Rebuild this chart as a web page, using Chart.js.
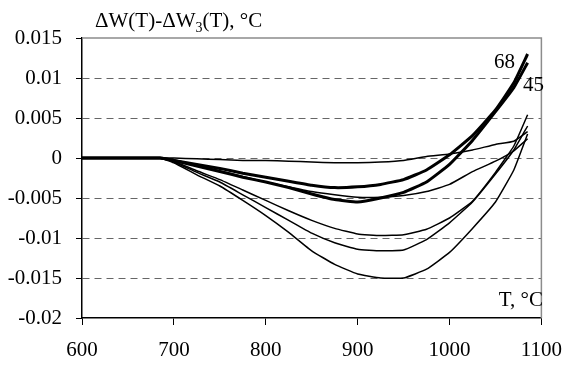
<!DOCTYPE html>
<html>
<head>
<meta charset="utf-8">
<script src="https://cdn.jsdelivr.net/npm/chart.js@4"></script>
<style>
	body { margin: 0; background: #fff; }
</style>
</head>
<body>
<canvas id="ResidualChart" width="575" height="365"></canvas>
<script>
const temps = [600, 650, 685, 700, 725, 750, 775, 800, 825, 850, 875, 900, 925, 950, 975, 1000, 1025, 1050, 1070, 1085]

const thick68 = [0, 0, 0, -0.0003, -0.0008, -0.0013, -0.0019, -0.0024, -0.0029, -0.0034, -0.0037, -0.0036, -0.0033, -0.0027, -0.0015, 0.0004, 0.0028, 0.006, 0.0094, 0.013]
const thick45 = [0, 0, 0, -0.0003, -0.001, -0.0017, -0.0024, -0.003, -0.0037, -0.0045, -0.0052, -0.0055, -0.005, -0.0043, -0.003, -0.0008, 0.0022, 0.0058, 0.0088, 0.0119]
const thin1 = [0, 0, 0, 0, -0.0001, -0.0002, -0.0003, -0.0003, -0.0004, -0.0005, -0.0006, -0.0006, -0.0005, -0.0003, 0.0002, 0.0005, 0.001, 0.0017, 0.0021, 0.0033]
const thin2 = [0, 0, 0, -0.0003, -0.0009, -0.0016, -0.0023, -0.003, -0.0036, -0.0042, -0.0046, -0.0049, -0.0049, -0.0047, -0.0042, -0.0033, -0.0017, -0.0004, 0.0009, 0.0024]
const thin3 = [0, 0, 0, -0.0004, -0.0016, -0.0027, -0.004, -0.0053, -0.0066, -0.0078, -0.0088, -0.0095, -0.0097, -0.0096, -0.0089, -0.0075, -0.0054, -0.0018, 0.0015, 0.0054]
const thin4 = [0, 0, 0, -0.0005, -0.0018, -0.003, -0.0046, -0.0062, -0.0078, -0.0094, -0.0106, -0.0114, -0.0116, -0.0115, -0.0102, -0.0081, -0.0055, -0.002, 0.001, 0.004]
const thin5 = [0, 0, 0, -0.0006, -0.0021, -0.0035, -0.0053, -0.0072, -0.0093, -0.0116, -0.0133, -0.0145, -0.015, -0.015, -0.0139, -0.0118, -0.0088, -0.0055, -0.0015, 0.003]

const xTickLabels = ['600', '700', '800', '900', '1000', '1100']
const yTickLabels = ['-0.02', '-0.015', '-0.01', '-0.005', '0', '0.005', '0.01', '0.015']

const FONT = 'Liberation Serif'

const points = function (values) {
	return temps.map((t, i) => ({ x: t, y: values[i] }))
}

const makeSet = function (label, values, width) {
	return {
		label: label,
		data: points(values),
		borderColor: '#000',
		borderWidth: width,
		pointRadius: 0,
		tension: 0.12,
		fill: false
	}
}

// frame and text labels
const decorations = {
	id: 'decorations',
	beforeDatasetsDraw(chart) {
		const ctx = chart.ctx
		const a = chart.chartArea
		ctx.save()
		ctx.strokeStyle = '#8c8c8c'
		ctx.lineWidth = 1.5
		ctx.beginPath()
		ctx.moveTo(a.left, a.top)
		ctx.lineTo(a.right, a.top)
		ctx.lineTo(a.right, a.bottom)
		ctx.stroke()
		ctx.restore()
	},
	afterDraw(chart) {
		const ctx = chart.ctx
		ctx.save()
		ctx.fillStyle = '#000'
		ctx.textBaseline = 'alphabetic'
		ctx.textAlign = 'left'

		// y axis title with subscript
		ctx.font = '21px "' + FONT + '"'
		let x = 95
		let part = '\u0394W(T)-\u0394W'
		ctx.fillText(part, x, 27)
		x += ctx.measureText(part).width
		ctx.font = '14px "' + FONT + '"'
		ctx.fillText('3', x, 32)
		x += ctx.measureText('3').width
		ctx.font = '21px "' + FONT + '"'
		ctx.fillText('(T), \u00B0C', x, 27)

		// x axis title
		ctx.textAlign = 'right'
		ctx.fillText('T, \u00B0C', 543, 306)

		// curve labels
		ctx.textAlign = 'left'
		ctx.fillText('68', 494, 68)
		ctx.fillText('45', 523, 91)
		ctx.restore()
	}
}

const config = {
	type: 'line',
	data: {
		datasets: [
			makeSet('thin 1', thin1, 1.5),
			makeSet('thin 2', thin2, 1.5),
			makeSet('thin 3', thin3, 1.5),
			makeSet('thin 4', thin4, 1.5),
			makeSet('thin 5', thin5, 1.5),
			makeSet('68', thick68, 3),
			makeSet('45', thick45, 3)
		]
	},
	options: {
		responsive: false,
		animation: false,
		layout: { padding: { left: 0, top: 38, right: 29, bottom: 0 } },
		plugins: {
			legend: { display: false },
			tooltip: { enabled: false }
		},
		scales: {
			x: {
				type: 'linear',
				min: 600,
				max: 1100,
				afterFit: function (scale) { scale.height = 47 },
				afterBuildTicks: function (scale) {
					scale.ticks = xTickLabels.map(v => ({ value: parseFloat(v) }))
				},
				ticks: {
					color: '#000',
					padding: 13,
					maxRotation: 0,
					font: { family: FONT, size: 21 },
					callback: function (value, index) { return xTickLabels[index] }
				},
				grid: {
					drawOnChartArea: false,
					tickLength: 7,
					tickColor: '#000'
				},
				border: { color: '#000', width: 1.5 }
			},
			y: {
				min: -0.02,
				max: 0.015,
				afterFit: function (scale) { scale.width = 82 },
				afterBuildTicks: function (scale) {
					scale.ticks = yTickLabels.map(v => ({ value: parseFloat(v) }))
				},
				ticks: {
					color: '#000',
					padding: 14,
					font: { family: FONT, size: 21 },
					callback: function (value, index) { return yTickLabels[index] }
				},
				grid: {
					tickLength: 6,
					tickColor: '#000',
					color: function (c) {
						if (!c.tick) return 'rgba(0,0,0,0)'
						const v = c.tick.value
						if (v <= -0.0199 || v >= 0.0149) return 'rgba(0,0,0,0)'
						return '#666'
					},
					lineWidth: 1
				},
				border: { color: '#000', width: 1.5, dash: [7, 5] }
			}
		}
	},
	plugins: [decorations]
}

const ResidualChart = new Chart(
	document.getElementById('ResidualChart'),
	config
)
</script>
</body>
</html>
